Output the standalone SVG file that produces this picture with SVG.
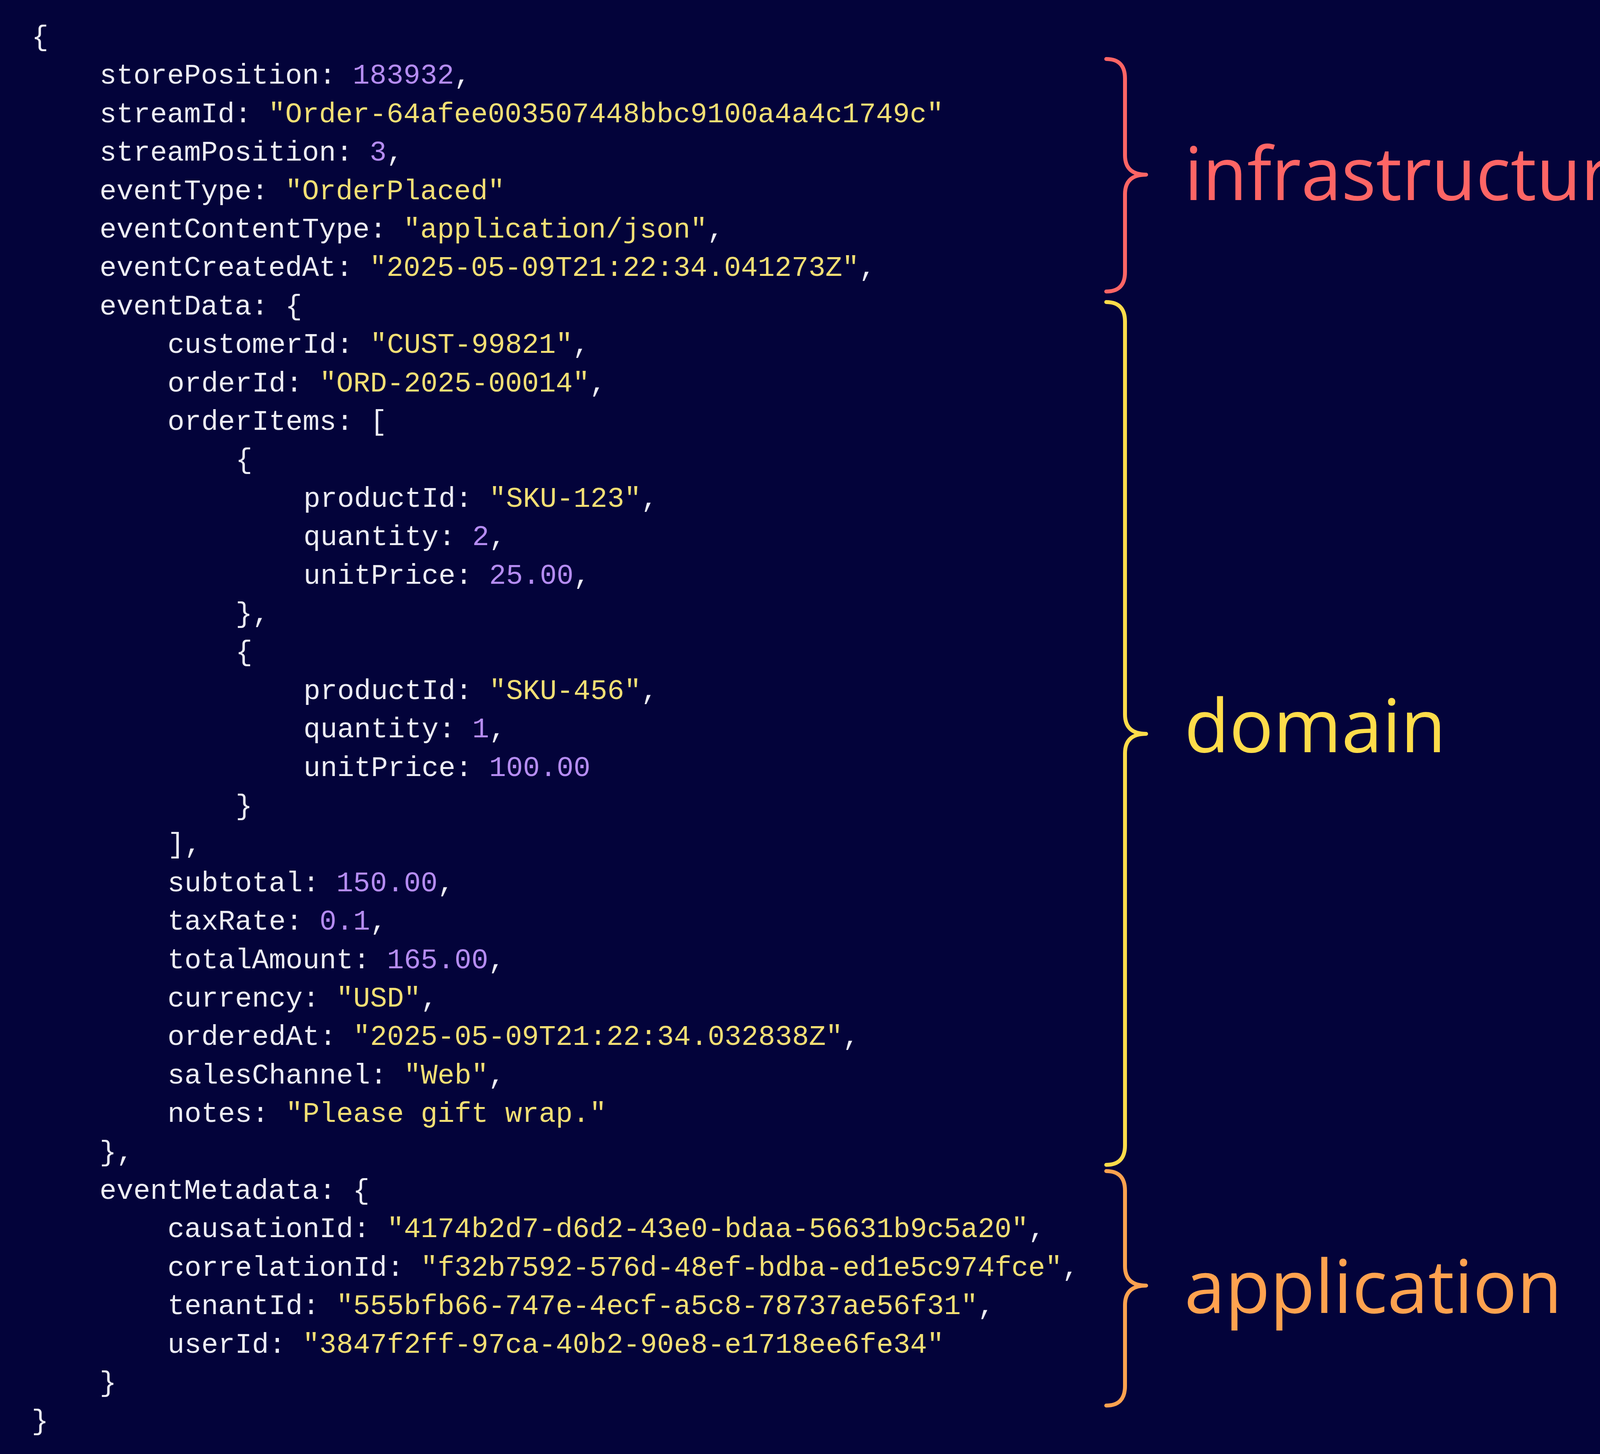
<svg xmlns="http://www.w3.org/2000/svg" width="4299" height="3721" viewBox="0 0 4299 3721">
<style>
.c{font-family:"Liberation Mono","DejaVu Sans Mono",monospace;font-size:72px;fill:#ececf4}
.s{fill:#f3df74}.n{fill:#b58cf2}
.lab{font-family:"Open Sans","Noto Sans",sans-serif;font-size:188px}
.br{fill:none;stroke-width:10;stroke-linecap:round;stroke-linejoin:round}
</style>
<rect width="4299" height="3721" fill="#03033a"/>
<g id="code" class="c">
<text x="81" y="116">{</text>
<text x="255" y="214.4">storePosition: <tspan class="n">183932</tspan>,</text>
<text x="255" y="312.8">streamId: <tspan class="s">"Order-64afee003507448bbc9100a4a4c1749c"</tspan></text>
<text x="255" y="411.2">streamPosition: <tspan class="n">3</tspan>,</text>
<text x="255" y="509.6">eventType: <tspan class="s">"OrderPlaced"</tspan></text>
<text x="255" y="608">eventContentType: <tspan class="s">"application/json"</tspan>,</text>
<text x="255" y="706.4">eventCreatedAt: <tspan class="s">"2025-05-09T21:22:34.041273Z"</tspan>,</text>
<text x="255" y="804.8">eventData: {</text>
<text x="429" y="903.2">customerId: <tspan class="s">"CUST-99821"</tspan>,</text>
<text x="429" y="1001.6">orderId: <tspan class="s">"ORD-2025-00014"</tspan>,</text>
<text x="429" y="1100">orderItems: [</text>
<text x="603" y="1198.4">{</text>
<text x="777" y="1296.8">productId: <tspan class="s">"SKU-123"</tspan>,</text>
<text x="777" y="1395.2">quantity: <tspan class="n">2</tspan>,</text>
<text x="777" y="1493.6">unitPrice: <tspan class="n">25.00</tspan>,</text>
<text x="603" y="1592">},</text>
<text x="603" y="1690.4">{</text>
<text x="777" y="1788.8">productId: <tspan class="s">"SKU-456"</tspan>,</text>
<text x="777" y="1887.2">quantity: <tspan class="n">1</tspan>,</text>
<text x="777" y="1985.6">unitPrice: <tspan class="n">100.00</tspan></text>
<text x="603" y="2084">}</text>
<text x="429" y="2182.4">],</text>
<text x="429" y="2280.8">subtotal: <tspan class="n">150.00</tspan>,</text>
<text x="429" y="2379.2">taxRate: <tspan class="n">0.1</tspan>,</text>
<text x="429" y="2477.6">totalAmount: <tspan class="n">165.00</tspan>,</text>
<text x="429" y="2576">currency: <tspan class="s">"USD"</tspan>,</text>
<text x="429" y="2674.4">orderedAt: <tspan class="s">"2025-05-09T21:22:34.032838Z"</tspan>,</text>
<text x="429" y="2772.8">salesChannel: <tspan class="s">"Web"</tspan>,</text>
<text x="429" y="2871.2">notes: <tspan class="s">"Please gift wrap."</tspan></text>
<text x="255" y="2969.6">},</text>
<text x="255" y="3068">eventMetadata: {</text>
<text x="429" y="3166.4">causationId: <tspan class="s">"4174b2d7-d6d2-43e0-bdaa-56631b9c5a20"</tspan>,</text>
<text x="429" y="3264.8">correlationId: <tspan class="s">"f32b7592-576d-48ef-bdba-ed1e5c974fce"</tspan>,</text>
<text x="429" y="3363.2">tenantId: <tspan class="s">"555bfb66-747e-4ecf-a5c8-78737ae56f31"</tspan>,</text>
<text x="429" y="3461.6">userId: <tspan class="s">"3847f2ff-97ca-40b2-90e8-e1718ee6fe34"</tspan></text>
<text x="255" y="3560">}</text>
<text x="81" y="3658.4">}</text>
</g>
<g id="infrastructure">
<path class="br" stroke="#ff6565" d="M2832 151 Q2880 151 2880 201 L2880 397 Q2880 447 2934 447 Q2880 447 2880 497 L2880 696 Q2880 746 2832 746"/>
<text class="lab" x="3032" y="512" fill="#ff6565" textLength="1195" lengthAdjust="spacingAndGlyphs">infrastructure</text>
</g>
<g id="domain">
<path class="br" stroke="#ffdc4a" d="M2832 773 Q2880 773 2880 823 L2880 1828 Q2880 1878 2934 1878 Q2880 1878 2880 1928 L2880 2931 Q2880 2981 2832 2981"/>
<text class="lab" x="3032" y="1925" fill="#ffdc4a">domain</text>
</g>
<g id="application">
<path class="br" stroke="#ffa24f" d="M2832 2997 Q2880 2997 2880 3047 L2880 3240 Q2880 3290 2934 3290 Q2880 3290 2880 3340 L2880 3547 Q2880 3597 2832 3597"/>
<text class="lab" x="3032" y="3360" fill="#ffa24f">application</text>
</g>
</svg>
